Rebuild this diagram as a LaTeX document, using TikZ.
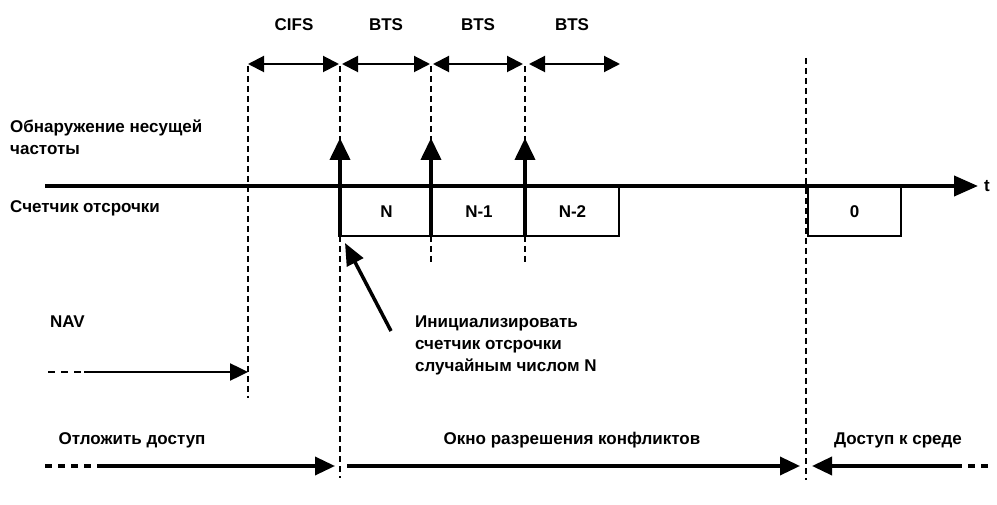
\documentclass[tikz,border=0pt]{standalone}
\usepackage{fontspec}
\setmainfont{Liberation Sans}
\usetikzlibrary{arrows.meta}
\tikzset{
  lbl/.style={font=\bfseries\fontsize{17}{22}\selectfont, inner sep=0pt},
  dimarrow/.style={line width=2pt, {Triangle[length=16pt,width=16pt]}-{Triangle[length=16pt,width=16pt]}},
  guide/.style={line width=1.2pt, dash pattern=on 6pt off 4pt},
  axis/.style={line width=4pt, -{Triangle[length=24pt,width=20pt]}},
  uparrow/.style={line width=4pt, -{Triangle[length=22pt,width=20pt]}},
  slot/.style={draw, line width=2pt, minimum height=49pt, anchor=north west, inner sep=0pt, font=\bfseries\fontsize{17}{18}\selectfont},
  phase/.style={line width=3.5pt},
  tip/.style={-{Triangle[length=20pt,width=18pt]}},
  tailtip/.style={{Triangle[length=20pt,width=18pt]}-},
  dots/.style={line width=3.5pt, dash pattern=on 7pt off 6pt},
}
\begin{document}
\begin{tikzpicture}[x=1pt,y=-1pt]
\useasboundingbox (0,0) rectangle (997,505);
% guide coordinates
\coordinate (g1t) at (248,66); \coordinate (g1b) at (248,398);
\coordinate (g2t) at (340,66); \coordinate (g2b) at (340,478);
\coordinate (g3t) at (431,66); \coordinate (g3b) at (431,262);
\coordinate (g4t) at (525,66); \coordinate (g4b) at (525,262);
\coordinate (g5t) at (806,58); \coordinate (g5b) at (806,480);
\draw[guide] (g1t) -- (g1b);
\draw[guide] (g2t) -- (g2b);
\draw[guide] (g3t) -- (g3b);
\draw[guide] (g4t) -- (g4b);
\draw[guide] (g5t) -- (g5b);

% top interval arrows
\coordinate (a0) at (248,64); \coordinate (a1) at (339,64);
\coordinate (b0) at (342,64); \coordinate (b1) at (430,64);
\coordinate (c0) at (433,64); \coordinate (c1) at (523,64);
\coordinate (d0) at (529,64); \coordinate (d1) at (620,64);
\draw[dimarrow] (a0) -- (a1);
\draw[dimarrow] (b0) -- (b1);
\draw[dimarrow] (c0) -- (c1);
\draw[dimarrow] (d0) -- (d1);
\node[lbl] (lcifs) at (294,25) {CIFS};
\node[lbl] (lbts1) at (386,25) {BTS};
\node[lbl] (lbts2) at (478,25) {BTS};
\node[lbl] (lbts3) at (572,25) {BTS};

% left labels
\node[lbl, anchor=west] (lcarrier1) at (10,128) {Обнаружение несущей};
\node[lbl, anchor=west] (lcarrier2) at (10,150) {частоты};
\node[lbl, anchor=west] (lcounter) at (10,208) {Счетчик отсрочки};

% slots
\node[slot, minimum width=91pt] (sN) at (340,186) {N};
\node[slot, minimum width=94pt] (sN1) at (431,186) {N-1};
\node[slot, minimum width=93pt] (sN2) at (525,186) {N-2};
\node[slot, minimum width=93pt] (s0) at (807,186) {0};

% time axis
\coordinate (tax0) at (45,186); \coordinate (tax1) at (978,186);
\draw[axis] (tax0) -- (tax1);
\node[lbl, anchor=west] (lt) at (984,186) {t};

% carrier sense arrows
\coordinate (u1) at (340,138); \coordinate (u2) at (431,138); \coordinate (u3) at (525,138);
\draw[uparrow] (sN.south west) -- (u1);
\draw[uparrow] (sN1.south west) -- (u2);
\draw[uparrow] (sN2.south west) -- (u3);

% annotation
\node[lbl, anchor=west, align=left] (init) at (415,345) {Инициализировать\\счетчик отсрочки\\случайным числом N};
\coordinate (ann0) at (391,331); \coordinate (ann1) at (345,243);
\draw[line width=3.5pt, -{Triangle[length=22pt,width=18pt]}] (ann0) -- (ann1);

% NAV
\node[lbl, anchor=west] (lnav) at (50,322) {NAV};
\coordinate (nav0) at (48,372); \coordinate (nav1) at (84,372); \coordinate (nav2) at (248,372);
\draw[line width=2.5pt, dash pattern=on 7pt off 6pt] (nav0) -- (nav1);
\draw[line width=2.5pt, -{Triangle[length=18pt,width=17pt]}] (nav1) -- (nav2);

% bottom phases
\node[lbl] (ldefer) at (132,440) {Отложить доступ};
\node[lbl] (lcw) at (572,440) {Окно разрешения конфликтов};
\node[lbl] (laccess) at (898,440) {Доступ к среде};
\coordinate (p0) at (45,466); \coordinate (p1) at (98,466); \coordinate (p2) at (335,466);
\coordinate (q0) at (347,466); \coordinate (q1) at (800,466);
\coordinate (r0) at (812,466); \coordinate (r1) at (955,466); \coordinate (r2) at (992,466);
\draw[dots] (p0) -- (p1);
\draw[phase, tip] (p1) -- (p2);
\draw[phase, tailtip, tip] (q0) -- (q1);
\draw[phase, tailtip] (r0) -- (r1);
\draw[dots] (r1) -- (r2);
\end{tikzpicture}
\end{document}
